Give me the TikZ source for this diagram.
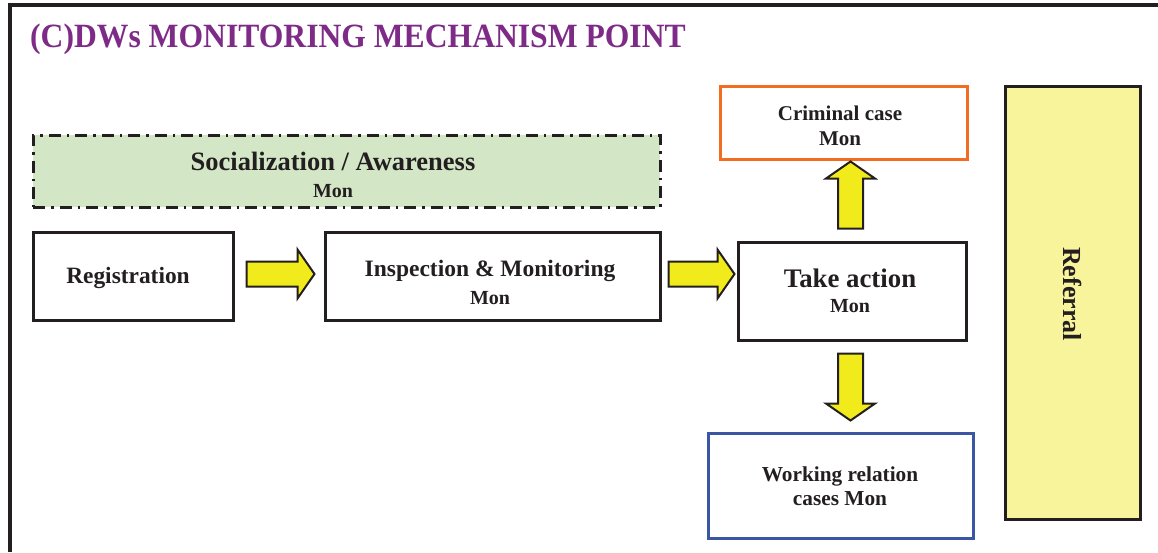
\documentclass[tikz,border=0pt]{standalone}
\usepackage{fontspec}
\usepackage{graphicx}
\setmainfont{Liberation Serif}
\usetikzlibrary{calc}
\definecolor{ink}{HTML}{231F20}
\definecolor{titlepurple}{HTML}{7E2B88}
\definecolor{socgreen}{HTML}{D3E7C7}
\definecolor{arrowyellow}{HTML}{F2EB1C}
\definecolor{refyellow}{HTML}{F8F49C}
\definecolor{crimorange}{HTML}{F26C22}
\definecolor{workblue}{HTML}{3A56A5}
\tikzset{
  box/.style={draw=ink, line width=3pt, fill=white, inner sep=0pt, align=center, text=ink, font=\bfseries},
  lbl/.style={anchor=base, inner sep=0pt, text=ink},
  arrowstyle/.style={draw=ink, line width=2pt, fill=arrowyellow, line join=miter},
  pics/blockarr/.style={code={
    \draw[arrowstyle] (0,-12.5) -- (#1-17,-12.5) -- (#1-17,-24.5) -- (#1,0) -- (#1-17,24.5) -- (#1-17,12.5) -- (0,12.5) -- cycle;
  }},
}
\begin{document}
\begin{tikzpicture}[x=1pt,y=-1pt]
\useasboundingbox (0,0) rectangle (1158,552);
% frame
\draw[line width=3.5pt, ink] (8,5) -- (1158,5);
\draw[line width=3.5pt, ink] (10,3) -- (10,552);
% title
\node[anchor=base west, inner sep=0pt, text=titlepurple, font=\fontsize{34}{40}\selectfont\bfseries] (title) at (30,47) {\scalebox{0.93}[1]{(C)DWs MONITORING MECHANISM POINT}};
% socialization
\node[box, fill=socgreen, dash pattern=on 12pt off 6pt on 2.5pt off 6pt, minimum width=627pt, minimum height=72pt] (soc) at (346.5,171) {};
\node[lbl, font=\fontsize{26.5}{30}\selectfont\bfseries] (soct) at (333,170) {Socialization / Awareness};
\node[lbl, font=\fontsize{20}{24}\selectfont\bfseries] (socm) at (333,197) {Mon};
% main row
\node[box, minimum width=200pt, minimum height=88pt] (reg) at (133,276) {};
\node[lbl, font=\fontsize{23.4}{28}\selectfont\bfseries] (regt) at (128,283) {Registration};
\node[box, minimum width=335pt, minimum height=88pt] (insp) at (492.5,276) {};
\node[lbl, font=\fontsize{23.5}{28}\selectfont\bfseries] (inspt) at (490,276) {Inspection \& Monitoring};
\node[lbl, font=\fontsize{20}{24}\selectfont\bfseries] (inspm) at (490,304) {Mon};
\node[box, minimum width=228pt, minimum height=98pt] (take) at (852,291) {};
\node[lbl, font=\fontsize{26.8}{30}\selectfont\bfseries] (taket) at (850,287) {Take action};
\node[lbl, font=\fontsize{20}{24}\selectfont\bfseries] (takem) at (850,312) {Mon};
% criminal case
\node[box, draw=crimorange, minimum width=247pt, minimum height=73pt] (crim) at (843.5,122.5) {};
\node[lbl, font=\fontsize{21}{24}\selectfont\bfseries] (crimt) at (840,120) {Criminal case};
\node[lbl, font=\fontsize{21}{24}\selectfont\bfseries] (crimm) at (840,145) {Mon};
% working relation
\node[box, draw=workblue, minimum width=265pt, minimum height=105pt] (work) at (840.5,485.5) {};
\node[lbl, font=\fontsize{21.3}{24}\selectfont\bfseries] (workt) at (840,481) {Working relation};
\node[lbl, font=\fontsize{21.3}{24}\selectfont\bfseries] (workm) at (840,505) {cases Mon};
% referral
\node[box, fill=refyellow, minimum width=135pt, minimum height=433pt] (ref) at (1072.5,302.5) {};
\node[rotate=-90, inner sep=0pt, text=ink, font=\fontsize{26}{30}\selectfont\bfseries] (reft) at (1073,294) {Referral};
% block arrows
\pic at ($(reg.east)+(12,-2)$) {blockarr=68};
\pic at ($(insp.east)+(7,-2)$) {blockarr=66};
\pic[rotate=90] at ($(take.north)+(-1.5,-12)$) {blockarr=67};
\pic[rotate=-90] at ($(take.south)+(-1.5,12)$) {blockarr=67};
\end{tikzpicture}
\end{document}
